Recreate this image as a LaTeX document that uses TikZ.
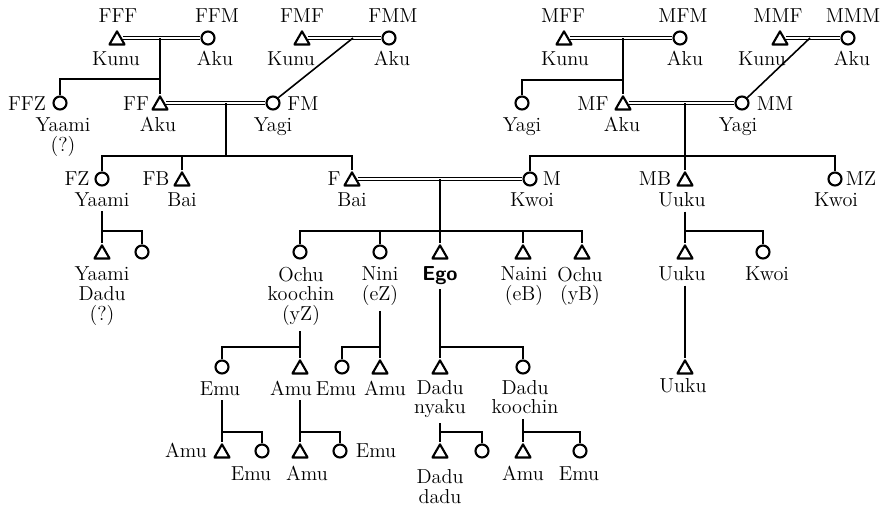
\documentclass[tikz,border=0pt]{standalone}
\usepackage{tikz}
\usetikzlibrary{shapes.geometric}

\begin{document}
\begin{tikzpicture}[x=0.02cm,y=-0.02cm,line width=0.9pt,
  tri/.style={draw,regular polygon,regular polygon sides=3,minimum size=3.5mm,inner sep=0pt,line width=1.2pt,line join=round,yshift=-1.2pt},
  circ/.style={draw,circle,minimum size=2.6mm,inner sep=0pt,line width=1.2pt},
  lab/.style={font=\fontsize{11.5}{11.34}\selectfont,inner sep=0pt,anchor=base},
  mlab/.style={lab,anchor=north,align=center},
  marr/.style={double,double distance=1.5pt,line width=0.65pt}]
\useasboundingbox (0,0) rectangle (890,507);
% great-grandparents
\node[tri] (fff) at (117,38) {};
\node[circ] (ffm) at (208,38) {};
\node[tri] (fmf) at (302,38) {};
\node[circ] (fmm) at (389,38) {};
\node[tri] (mff) at (564,38) {};
\node[circ] (mfm) at (680,38) {};
\node[tri] (mmf) at (780,38) {};
\node[circ] (mmm) at (848,38) {};
\node[lab] (ffft) at (118,23) {FFF};
\node[lab] (ffmt) at (217,23) {FFM};
\node[lab] (fmft) at (302,23) {FMF};
\node[lab] (fmmt) at (393,23) {FMM};
\node[lab] (mfft) at (563,23) {MFF};
\node[lab] (mfmt) at (683,23) {MFM};
\node[lab] (mmft) at (778,23) {MMF};
\node[lab] (mmmt) at (853,23) {MMM};
\node[lab] (fffn) at (116,65) {Kunu};
\node[lab] (ffmn) at (215,65) {Aku};
\node[lab] (fmfn) at (291,65) {Kunu};
\node[lab] (fmmn) at (392,65) {Aku};
\node[lab] (mffn) at (565,65) {Kunu};
\node[lab] (mfmn) at (685,65) {Aku};
\node[lab] (mmfn) at (762,65) {Kunu};
\node[lab] (mmmn) at (852,65) {Aku};
% grandparents
\node[circ] (ffz) at (60,103) {};
\node[tri] (ff) at (160,103) {};
\node[circ] (fm) at (273,103) {};
\node[circ] (mfz) at (522,103) {};
\node[tri] (mf) at (623,103) {};
\node[circ] (mm) at (742,103) {};
\node[lab] (ffzt) at (27,110) {FFZ};
\node[lab] (fft) at (136,110) {FF};
\node[lab] (fmt) at (303,110) {FM};
\node[lab] (mft) at (593,110) {MF};
\node[lab] (mmt) at (775,110) {MM};
\node[mlab] (ffzn) at (63,117) {Yaami\\(?)};
\node[lab] (ffn) at (158,131) {Aku};
\node[lab] (fmn) at (273,131) {Yagi};
\node[lab] (mfzn) at (522,131) {Yagi};
\node[lab] (mfn) at (622,131) {Aku};
\node[lab] (mmn) at (738,131) {Yagi};
% parents
\node[circ] (fz) at (102,179) {};
\node[tri] (fb) at (182,179) {};
\node[tri] (f) at (352,179) {};
\node[circ] (m) at (530,179) {};
\node[tri] (mb) at (685,179) {};
\node[circ] (mz) at (835,179) {};
\node[lab] (fzt) at (77,185) {FZ};
\node[lab] (fbt) at (156,185) {FB};
\node[lab] (ft) at (334,185) {F};
\node[lab] (mt) at (552,185) {M};
\node[lab] (mbt) at (655,185) {MB};
\node[lab] (mzt) at (861,185) {MZ};
\node[lab] (fzn) at (102,206) {Yaami};
\node[lab] (fbn) at (182,206) {Bai};
\node[lab] (fn) at (352,206) {Bai};
\node[lab] (mn) at (532,206) {Kwoi};
\node[lab] (mbn) at (682,206) {Uuku};
\node[lab] (mzn) at (836,206) {Kwoi};
% ego's generation
\node[tri] (fzs) at (102,252) {};
\node[circ] (fzd) at (142,252) {};
\node[circ] (yz) at (300,252) {};
\node[circ] (ez) at (380,252) {};
\node[tri] (ego) at (440,252) {};
\node[tri] (eb) at (523,252) {};
\node[tri] (yb) at (582,252) {};
\node[tri] (mbs) at (685,252) {};
\node[circ] (mbd) at (763,252) {};
\node[mlab] (fzsn) at (102,266) {Yaami\\Dadu\\(?)};
\node[mlab] (yzn) at (301,266) {Ochu\\koochin\\(yZ)};
\node[mlab] (ezn) at (380,266) {Nini\\(eZ)};
\node[lab,font=\fontsize{11.5}{11.34}\selectfont\sffamily\bfseries] (egon) at (440,280) {Ego};
\node[mlab] (ebn) at (524,266) {Naini\\(eB)};
\node[mlab] (ybn) at (580,266) {Ochu\\(yB)};
\node[lab] (mbsn) at (682,280) {Uuku};
\node[lab] (mbdn) at (767,280) {Kwoi};
% children
\node[circ] (yzd) at (222,367) {};
\node[tri] (yzs) at (300,367) {};
\node[circ] (ezd) at (342,367) {};
\node[tri] (ezs) at (380,367) {};
\node[tri] (egos) at (440,367) {};
\node[circ] (egod) at (523,367) {};
\node[tri] (mbss) at (685,367) {};
\node[lab] (yzdn) at (220,395) {Emu};
\node[lab] (yzsn) at (291,395) {Amu};
\node[lab] (ezdn) at (336,395) {Emu};
\node[lab] (ezsn) at (385,395) {Amu};
\node[mlab] (egosn) at (440,380) {Dadu\\[-0.5pt]nyaku};
\node[mlab] (egodn) at (525,380) {Dadu\\[-0.5pt]koochin};
\node[lab] (mbssn) at (683,392) {Uuku};
% grandchildren
\node[tri] (yzdS) at (222,451) {};
\node[circ] (yzdD) at (262,451) {};
\node[tri] (yzsS) at (300,451) {};
\node[circ] (yzsD) at (340,451) {};
\node[tri] (egosS) at (440,451) {};
\node[circ] (egosD) at (482,451) {};
\node[tri] (egodS) at (523,451) {};
\node[circ] (egodD) at (580,451) {};
\node[lab] (yzdSn) at (186,457) {Amu};
\node[lab] (yzdDn) at (251,480) {Emu};
\node[lab] (yzsSn) at (307,480) {Amu};
\node[lab] (yzsDn) at (376,457) {Emu};
\node[mlab] (egosSn) at (440,469) {Dadu\\dadu};
\node[lab] (egodSn) at (523,480) {Amu};
\node[lab] (egodDn) at (579,480) {Emu};
% junctions
\coordinate (jff) at (160,38); \coordinate (bff) at (160,79);
\coordinate (jfm) at (353,38);
\coordinate (jmf) at (623,38); \coordinate (bmf) at (623,80);
\coordinate (jmm) at (810,38);
\coordinate (jf) at (226,103); \coordinate (bf) at (226,156);
\coordinate (jm) at (685,103); \coordinate (bm) at (685,156);
\coordinate (je) at (440,179); \coordinate (be) at (440,231);
\coordinate (bfz) at (102,231); \coordinate (bmb) at (685,231);
\coordinate (byz) at (300,347); \coordinate (bez) at (380,347); \coordinate (bego) at (440,347);
\coordinate (byzd) at (222,432); \coordinate (byzs) at (300,432);
\coordinate (begos) at (440,432); \coordinate (begod) at (523,432);
% marriages
\draw[marr] (fff.east |- ffm) -- (ffm.west);
\draw[marr] (fmf.east |- fmm) -- (fmm.west);
\draw[marr] (mff.east |- mfm) -- (mfm.west);
\draw[marr] (mmf.east |- mmm) -- (mmm.west);
\draw[marr] (ff.east |- fm) -- (fm.west);
\draw[marr] (mf.east |- mm) -- (mm.west);
\draw[marr] (f.east |- m) -- (m.west);
% descent
\draw (jff) -- (ff.north); \draw (bff) -| (ffz.north);
\draw (jfm) -- (fm.north east);
\draw (jmf) -- (mf.north); \draw (bmf) -| (mfz.north);
\draw (jmm) -- (mm.north east);
\draw (jf) -- (bf); \draw (fz.north) |- (bf) -| (f.north);
\draw (fb.north) -- (fb.north |- bf);
\draw (jm) -- (mb.north); \draw (m.north) |- (bm) -| (mz.north);
\draw (je) -- (ego.north); \draw (yz.north) |- (be) -| (yb.north);
\draw (ez.north) -- (ez.north |- be);
\draw (eb.north) -- (eb.north |- be);
\draw ([yshift=-2.5pt]fzn.south -| fzs) -- (fzs.north); \draw (bfz) -| (fzd.north);
\draw ([yshift=-2.5pt]mbn.south -| mbs) -- (mbs.north); \draw (bmb) -| (mbd.north);
\draw ([yshift=-2.5pt]mbsn.south -| mbss) -- (mbss.north);
\draw ([yshift=-2.5pt]yzn.south -| yzs) -- (yzs.north); \draw (byz) -| (yzd.north);
\draw ([yshift=-2.5pt]ezn.south -| ezs) -- (ezs.north); \draw (bez) -| (ezd.north);
\draw ([yshift=-2.5pt]egon.south -| egos) -- (egos.north); \draw (bego) -| (egod.north);
\draw ([yshift=-2.5pt]yzdn.south -| yzdS) -- (yzdS.north); \draw (byzd) -| (yzdD.north);
\draw ([yshift=-2.5pt]yzsn.south -| yzsS) -- (yzsS.north); \draw (byzs) -| (yzsD.north);
\draw ([yshift=-2.5pt]egosn.south -| egosS) -- (egosS.north); \draw (begos) -| (egosD.north);
\draw ([yshift=-2.5pt]egodn.south -| egodS) -- (egodS.north); \draw (begod) -| (egodD.north);
\end{tikzpicture}
\end{document}
